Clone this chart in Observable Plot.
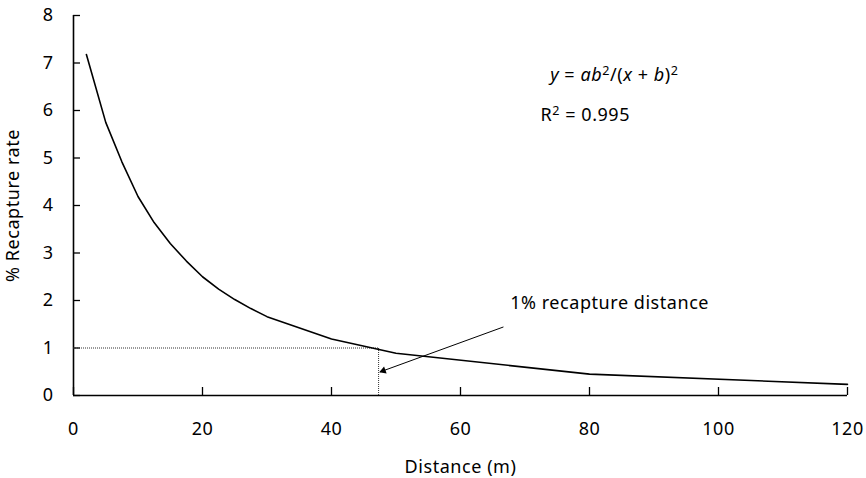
<!DOCTYPE html>
<html>
<head>
<meta charset="utf-8">
<script src="https://cdn.jsdelivr.net/npm/d3@7"></script>
<script src="https://cdn.jsdelivr.net/npm/@observablehq/plot@0.6"></script>
<style>
  html, body { margin: 0; padding: 0; background: #fff; }
  svg text { letter-spacing: 0.55px; }
</style>
</head>
<body>
<div id="chart"></div>
<script>
// Data
const distance = [2, 5, 7.5, 10, 12.5, 15, 17.5, 20, 22.5, 25, 27.5, 30, 40, 50, 80, 120];
const recapture = [7.18, 5.75, 4.92, 4.19, 3.64, 3.2, 2.83, 2.5, 2.24, 2.02, 1.83, 1.66, 1.19, 0.89, 0.45, 0.235];
const xTicks = [0, 20, 40, 60, 80, 100, 120];
const yTicks = [0, 1, 2, 3, 4, 5, 6, 7, 8];
const cutoffRate = 1;
const cutoffDistance = 47.3;
const arrowFrom = [66.6, 1.44];
const arrowTo = [47.6, 0.5];
const annotationLabel = "1% recapture distance";
const annotationPos = [67.7, 1.94];
const equationPos = [73.9, 6.74];
const r2Pos = [72.4, 5.9];
const r2Value = "0.995";

const data = distance.map((d, i) => ({distance: d, rate: recapture[i]}));

const chart = Plot.plot({
  width: 866,
  height: 478,
  marginLeft: 73,
  marginRight: 19,
  marginTop: 15,
  marginBottom: 83,
  style: {fontFamily: "'Noto Sans', sans-serif", fontSize: "18px", color: "#000", background: "#fff"},
  x: {domain: [0, 120]},
  y: {domain: [0, 8]},
  marks: [
    Plot.axisX({ticks: xTicks, tickSize: -8, tickPadding: 35, stroke: "#000", strokeWidth: 1.3,
      label: "Distance (m)", labelAnchor: "center", labelOffset: 77, labelArrow: "none"}),
    Plot.axisY({ticks: yTicks, tickSize: -7, tickPadding: 27, stroke: "#000", strokeWidth: 1.3,
      label: "% Recapture rate", labelAnchor: "center", labelOffset: 67, labelArrow: "none"}),
    Plot.ruleX([0], {y1: 0, y2: 8, stroke: "#000", strokeWidth: 1.6}),
    Plot.ruleY([0], {x1: 0, x2: 120, stroke: "#000", strokeWidth: 1.6}),
    Plot.ruleY([cutoffRate], {x1: 0, x2: cutoffDistance, stroke: "#333", strokeWidth: 1, strokeDasharray: "1,1"}),
    Plot.ruleX([cutoffDistance], {y1: 0, y2: cutoffRate, stroke: "#333", strokeWidth: 1, strokeDasharray: "1,1"}),
    Plot.line(data, {x: "distance", y: "rate", stroke: "#000", strokeWidth: 1.6}),
    Plot.arrow([{x1: arrowFrom[0], y1: arrowFrom[1], x2: arrowTo[0], y2: arrowTo[1]}],
      {x1: "x1", y1: "y1", x2: "x2", y2: "y2", stroke: "#000", strokeWidth: 1, headLength: 0}),
    Plot.dot([arrowTo], {x: d => d[0], y: d => d[1], symbol: "triangle2", r: 3.6, fill: "#000", stroke: "none",
      rotate: -110, dx: 2.8, dy: -1}),
    Plot.text([annotationLabel], {x: annotationPos[0], y: annotationPos[1], text: d => d, textAnchor: "start", fill: "#000"}),
    Plot.text(["y = ab2/(x + b)2"], {x: equationPos[0], y: equationPos[1], text: d => d, textAnchor: "start", fill: "#000", className: "eq"}),
    Plot.text(["R2 = " + r2Value], {x: r2Pos[0], y: r2Pos[1], text: d => d, textAnchor: "start", fill: "#000", className: "r2"})
  ]
});

function richText(sel, parts) {
  sel.each(function() {
    const t = d3.select(this);
    t.text(null);
    let up = false;
    for (const [s, kind] of parts) {
      const sp = t.append("tspan").text(s);
      if (kind === "i") sp.attr("font-style", "italic");
      if (kind === "sup") {
        sp.attr("font-size", "0.7em").attr("dy", "-0.45em");
        up = true;
      } else if (up) {
        sp.attr("dy", "0.315em");
        up = false;
      }
    }
  });
}
const svg = d3.select(chart);
richText(svg.selectAll(".eq text"), [["y", "i"], [" = ", "n"], ["ab", "i"], ["2", "sup"], ["/(", "n"], ["x", "i"], [" + ", "n"], ["b", "i"], [")", "n"], ["2", "sup"]]);
richText(svg.selectAll(".r2 text"), [["R", "n"], ["2", "sup"], [" = " + r2Value, "n"]]);

document.getElementById("chart").appendChild(chart);
</script>
</body>
</html>
